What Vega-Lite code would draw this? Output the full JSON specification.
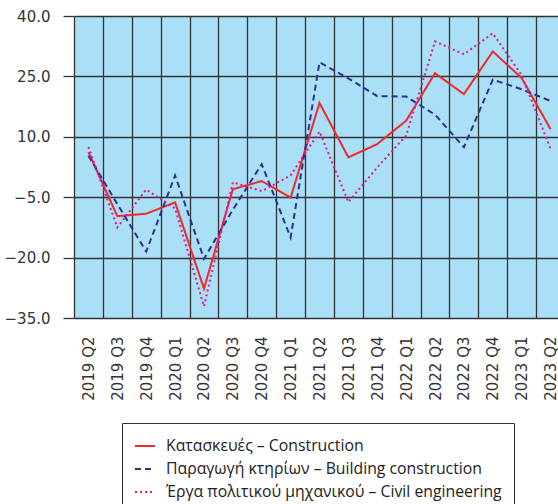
{
  "$schema": "https://vega.github.io/schema/vega-lite/v6.json",
  "autosize": {"type": "none"},
  "padding": {"left": 74, "top": 16, "right": -7, "bottom": 186},
  "width": 491,
  "height": 302,
  "background": "white",
  "config": {
    "view": {"fill": "#AADFF8", "stroke": null},
    "axis": {"labelFont": "DejaVu Sans", "labelFontSize": 15, "labelColor": "#333333", "gridColor": "#333333", "gridWidth": 1.3, "gridOpacity": 1, "domain": false, "title": null}
  },
  "datasets": {
    "rows": [
      {"q": "2019 Q2", "s": "Κατασκευές – Construction", "v": 6.2},
      {"q": "2019 Q3", "s": "Κατασκευές – Construction", "v": -9.7},
      {"q": "2019 Q4", "s": "Κατασκευές – Construction", "v": -9.1},
      {"q": "2020 Q1", "s": "Κατασκευές – Construction", "v": -6.3},
      {"q": "2020 Q2", "s": "Κατασκευές – Construction", "v": -27.7},
      {"q": "2020 Q3", "s": "Κατασκευές – Construction", "v": -3.0},
      {"q": "2020 Q4", "s": "Κατασκευές – Construction", "v": -1.0},
      {"q": "2021 Q1", "s": "Κατασκευές – Construction", "v": -5.1},
      {"q": "2021 Q2", "s": "Κατασκευές – Construction", "v": 18.4},
      {"q": "2021 Q3", "s": "Κατασκευές – Construction", "v": 4.9},
      {"q": "2021 Q4", "s": "Κατασκευές – Construction", "v": 8.2},
      {"q": "2022 Q1", "s": "Κατασκευές – Construction", "v": 14.0},
      {"q": "2022 Q2", "s": "Κατασκευές – Construction", "v": 25.8},
      {"q": "2022 Q3", "s": "Κατασκευές – Construction", "v": 20.6},
      {"q": "2022 Q4", "s": "Κατασκευές – Construction", "v": 31.2},
      {"q": "2023 Q1", "s": "Κατασκευές – Construction", "v": 24.6},
      {"q": "2023 Q2", "s": "Κατασκευές – Construction", "v": 11.9},
      {"q": "2019 Q2", "s": "Παραγωγή κτηρίων – Building construction", "v": 5.3},
      {"q": "2019 Q3", "s": "Παραγωγή κτηρίων – Building construction", "v": -6.7},
      {"q": "2019 Q4", "s": "Παραγωγή κτηρίων – Building construction", "v": -18.5},
      {"q": "2020 Q1", "s": "Παραγωγή κτηρίων – Building construction", "v": 0.4},
      {"q": "2020 Q2", "s": "Παραγωγή κτηρίων – Building construction", "v": -20.3},
      {"q": "2020 Q3", "s": "Παραγωγή κτηρίων – Building construction", "v": -8.1},
      {"q": "2020 Q4", "s": "Παραγωγή κτηρίων – Building construction", "v": 3.2},
      {"q": "2021 Q1", "s": "Παραγωγή κτηρίων – Building construction", "v": -15.0},
      {"q": "2021 Q2", "s": "Παραγωγή κτηρίων – Building construction", "v": 28.5},
      {"q": "2021 Q3", "s": "Παραγωγή κτηρίων – Building construction", "v": 24.5},
      {"q": "2021 Q4", "s": "Παραγωγή κτηρίων – Building construction", "v": 20.1},
      {"q": "2022 Q1", "s": "Παραγωγή κτηρίων – Building construction", "v": 20.0},
      {"q": "2022 Q2", "s": "Παραγωγή κτηρίων – Building construction", "v": 15.5},
      {"q": "2022 Q3", "s": "Παραγωγή κτηρίων – Building construction", "v": 7.4},
      {"q": "2022 Q4", "s": "Παραγωγή κτηρίων – Building construction", "v": 24.2},
      {"q": "2023 Q1", "s": "Παραγωγή κτηρίων – Building construction", "v": 21.8},
      {"q": "2023 Q2", "s": "Παραγωγή κτηρίων – Building construction", "v": 18.9},
      {"q": "2019 Q2", "s": "Έργα πολιτικού μηχανικού – Civil engineering", "v": 7.5},
      {"q": "2019 Q3", "s": "Έργα πολιτικού μηχανικού – Civil engineering", "v": -12.5},
      {"q": "2019 Q4", "s": "Έργα πολιτικού μηχανικού – Civil engineering", "v": -3.1},
      {"q": "2020 Q1", "s": "Έργα πολιτικού μηχανικού – Civil engineering", "v": -7.8},
      {"q": "2020 Q2", "s": "Έργα πολιτικού μηχανικού – Civil engineering", "v": -32.1},
      {"q": "2020 Q3", "s": "Έργα πολιτικού μηχανικού – Civil engineering", "v": -1.3},
      {"q": "2020 Q4", "s": "Έργα πολιτικού μηχανικού – Civil engineering", "v": -3.5},
      {"q": "2021 Q1", "s": "Έργα πολιτικού μηχανικού – Civil engineering", "v": 0.4},
      {"q": "2021 Q2", "s": "Έργα πολιτικού μηχανικού – Civil engineering", "v": 11.3},
      {"q": "2021 Q3", "s": "Έργα πολιτικού μηχανικού – Civil engineering", "v": -6.2},
      {"q": "2021 Q4", "s": "Έργα πολιτικού μηχανικού – Civil engineering", "v": 2.4},
      {"q": "2022 Q1", "s": "Έργα πολιτικού μηχανικού – Civil engineering", "v": 10.3},
      {"q": "2022 Q2", "s": "Έργα πολιτικού μηχανικού – Civil engineering", "v": 33.7},
      {"q": "2022 Q3", "s": "Έργα πολιτικού μηχανικού – Civil engineering", "v": 30.5},
      {"q": "2022 Q4", "s": "Έργα πολιτικού μηχανικού – Civil engineering", "v": 35.7},
      {"q": "2023 Q1", "s": "Έργα πολιτικού μηχανικού – Civil engineering", "v": 25.3},
      {"q": "2023 Q2", "s": "Έργα πολιτικού μηχανικού – Civil engineering", "v": 7.0}
    ]
  },
  "data": {"name": "rows"},
  "mark": {"type": "line", "strokeWidth": 2},
  "encoding": {
    "x": {
      "field": "q", "type": "ordinal", "sort": null,
      "scale": {"type": "band", "paddingInner": 0, "paddingOuter": 0},
      "axis": {"labelAngle": -90, "ticks": false, "tickBand": "extent", "labelPadding": 18, "grid": true}
    },
    "y": {
      "field": "v", "type": "quantitative",
      "scale": {"domain": [-35, 40], "nice": false, "zero": false},
      "axis": {"values": [-35, -20, -5, 10, 25, 40], "format": ".1f", "tickSize": 11, "tickColor": "#333333", "tickWidth": 1.3, "labelPadding": 13, "grid": true}
    },
    "color": {
      "field": "s", "type": "nominal",
      "scale": {
        "domain": ["Κατασκευές – Construction", "Παραγωγή κτηρίων – Building construction", "Έργα πολιτικού μηχανικού – Civil engineering"],
        "range": ["#EE2A2A", "#2E3192", "#E6178A"]
      },
      "legend": {
        "orient": "none", "legendX": 48, "legendY": 407, "title": null,
        "strokeColor": "#333333", "padding": 12, "symbolType": "stroke", "symbolSize": 400, "symbolStrokeWidth": 2,
        "labelFont": "Open Sans", "labelFontSize": 15.8, "labelColor": "#222222", "rowPadding": 4, "labelLimit": 500, "labelOffset": 10
      }
    },
    "strokeDash": {
      "field": "s", "type": "nominal",
      "scale": {
        "domain": ["Κατασκευές – Construction", "Παραγωγή κτηρίων – Building construction", "Έργα πολιτικού μηχανικού – Civil engineering"],
        "range": [[1, 0], [6, 4], [2, 3]]
      },
      "legend": null
    },
    "order": {"field": "s", "sort": "ascending"}
  }
}
